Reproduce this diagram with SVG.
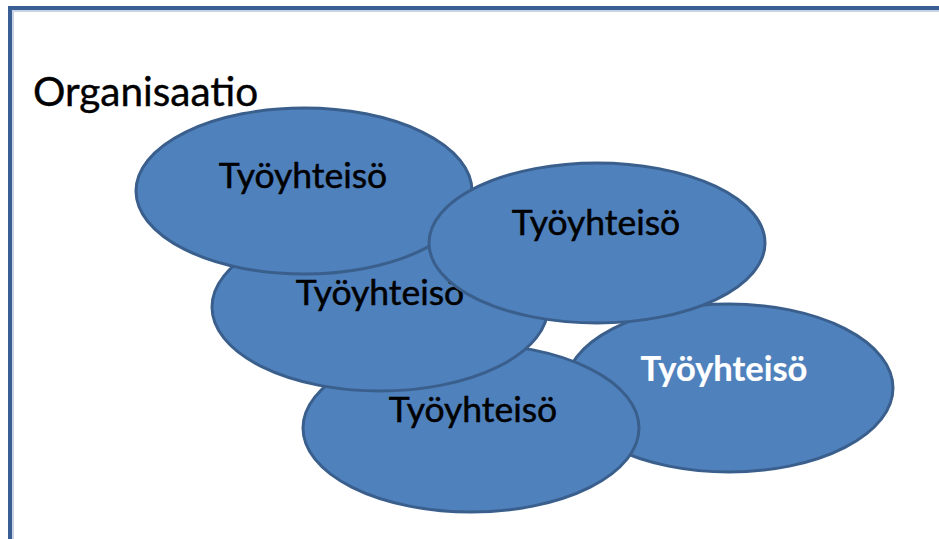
<svg xmlns="http://www.w3.org/2000/svg" width="939" height="539" viewBox="0 0 939 539">
<style>
.ell{fill:#4F81BD;stroke:#3A5F8C;stroke-width:3}
.lbl{font-family:Lato,"Open Sans","Liberation Sans",sans-serif;font-size:35.5px;text-anchor:middle;fill:#000;stroke:#000;stroke-width:0.5}
.wl{fill:#fff;stroke:#fff;stroke-width:0.2;font-weight:bold;font-size:34.5px}
.title{font-family:Lato,"Open Sans","Liberation Sans",sans-serif;font-size:40.5px;fill:#000;stroke:#000;stroke-width:0.4}
</style>
<rect width="939" height="539" fill="#fff"/>
<g id="frame">
<line x1="10" y1="8" x2="939" y2="8" stroke="#3A5F95" stroke-width="4"/>
<line x1="10" y1="11" x2="939" y2="11" stroke="#C9D3E3" stroke-width="2"/>
<line x1="10" y1="6" x2="10" y2="539" stroke="#3A5F95" stroke-width="4"/>
<line x1="13" y1="11" x2="13" y2="539" stroke="#C9D3E3" stroke-width="2"/>
</g>
<g id="organisaatio"><text class="title" x="33" y="106">Organisaatio</text></g>
<g id="n5"><ellipse class="ell" cx="729" cy="388" rx="164" ry="84"/><text class="lbl wl" x="724" y="381">Työyhteisö</text></g>
<g id="n4"><ellipse class="ell" cx="471" cy="428" rx="168" ry="84"/><text class="lbl" x="473" y="422">Työyhteisö</text></g>
<g id="n3"><ellipse class="ell" cx="380" cy="307" rx="168" ry="84"/><text class="lbl" x="380" y="305">Työyhteisö</text></g>
<g id="n1"><ellipse class="ell" cx="304" cy="191" rx="168" ry="83"/><text class="lbl" x="303" y="188">Työyhteisö</text></g>
<g id="n2"><ellipse class="ell" cx="597" cy="243" rx="168" ry="80"/><text class="lbl" x="596" y="235">Työyhteisö</text></g>
<g id="connectors"></g>
</svg>
